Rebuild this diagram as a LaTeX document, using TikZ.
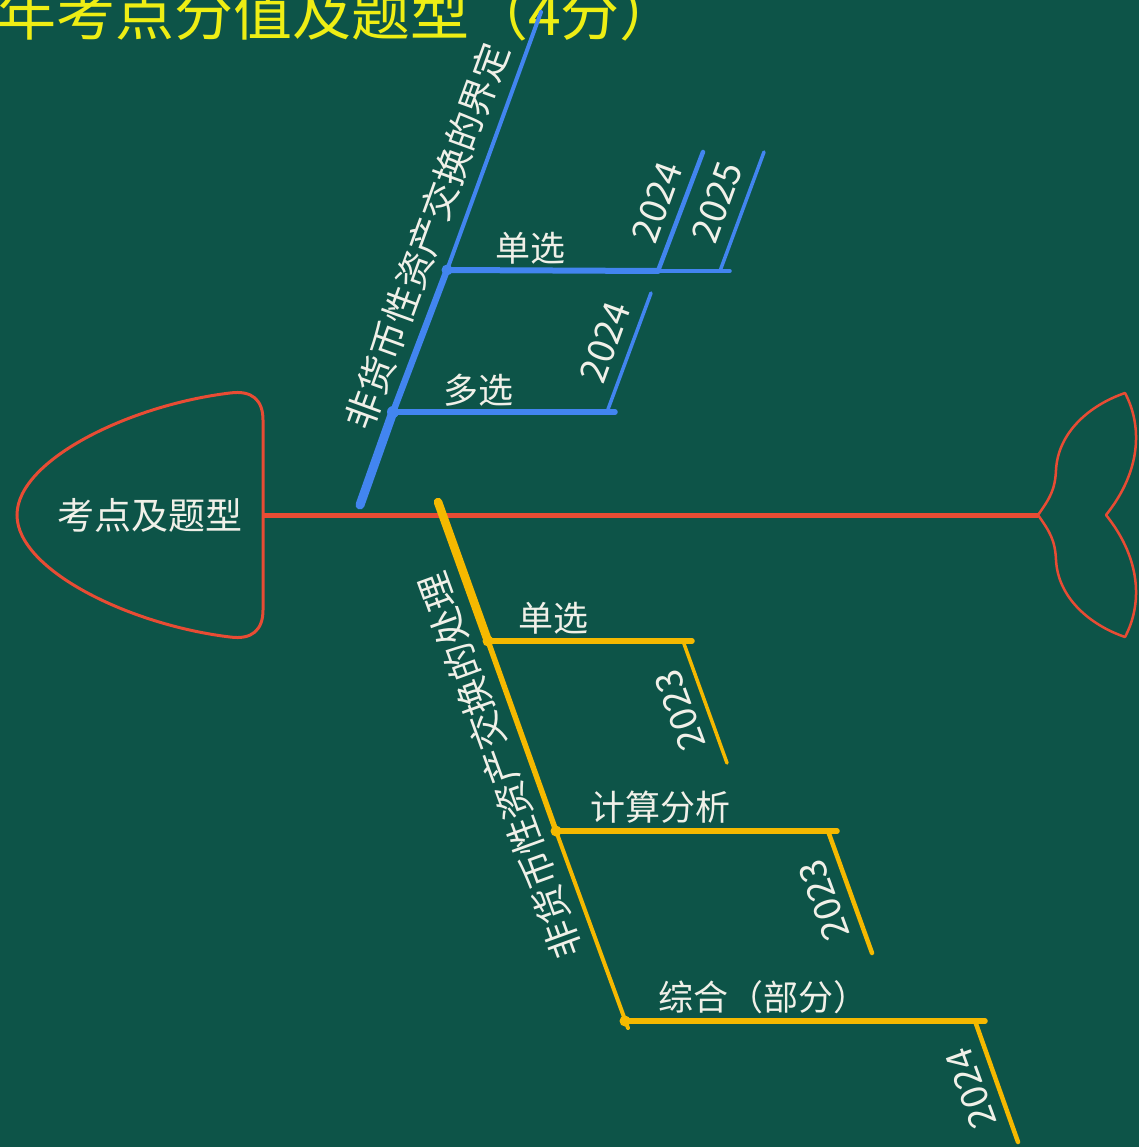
\documentclass[tikz,border=0pt]{standalone}
\usepackage{fontspec}
\setmainfont{Noto Sans CJK SC}
\definecolor{bgc}{RGB}{13,84,72}
\definecolor{fishred}{RGB}{232,76,52}
\definecolor{boneblue}{RGB}{66,133,240}
\definecolor{boneyel}{RGB}{245,185,0}
\definecolor{ttl}{RGB}{238,238,20}
\definecolor{txt}{RGB}{240,240,232}
\begin{document}
\begin{tikzpicture}[x=1pt,y=-1pt,
  lbl/.style={text=txt,font=\fontsize{35}{40}\selectfont,inner sep=0pt},
  yr/.style={text=txt,font=\fontsize{37}{40}\selectfont,inner sep=0pt},
  bb/.style={draw=boneblue,line cap=round},
  yb/.style={draw=boneyel,line cap=round},
  dotb/.style={fill=boneblue},
  doty/.style={fill=boneyel}]
\useasboundingbox (0,0) rectangle (1139,1147);
\clip (0,0) rectangle (1139,1147);
\fill[bgc] (0,0) rectangle (1139,1147);

% title
\node[anchor=base west,text=ttl,font=\fontsize{59}{64}\selectfont,inner sep=0pt] (title) at (-3,36) {年考点分值及题型（4分）};

% head
\draw[fishred,line width=3pt] (263,420) .. controls (263,400) and (252,390) .. (230,393)
  .. controls (130,405) and (17,460) .. (17,515)
  .. controls (17,570) and (130,625) .. (230,637)
  .. controls (252,640) and (263,630) .. (263,610) -- cycle;
\node[lbl,font=\fontsize{37}{40}\selectfont] (head) at (150,515) {考点及题型};

% tail
\draw[fishred,line width=2.5pt,line join=round] (1038,515)
  .. controls (1050,498) and (1055,490) .. (1056,470)
  .. controls (1058,432) and (1090,405) .. (1125,393)
  .. controls (1142,425) and (1142,470) .. (1106,515)
  .. controls (1142,560) and (1142,605) .. (1125,637)
  .. controls (1090,625) and (1058,598) .. (1056,560)
  .. controls (1055,540) and (1050,532) .. (1038,515);

% spine
\coordinate (sp0) at (263,515);
\coordinate (sp1) at (1038,515);
\draw[fishred,line width=5pt] (sp0) -- (sp1);

% ---------- blue bone ----------
\coordinate (B0) at (360,505);
\coordinate (B1) at (393,412);
\coordinate (B2) at (447,270);
\coordinate (B3) at (541,12);
\draw[bb,line width=9pt] (B0) -- (B1);
\draw[bb,line width=6.5pt] (B1) -- (B2);
\draw[bb,line width=4pt] (B2) -- (B3);
\node[lbl,font=\fontsize{37}{40}\selectfont,rotate=70] (blab) at (427,236) {非货币性资产交换的界定};

% 单选 branch
\coordinate (S1y1) at (658,271);
\coordinate (S1y2) at (720,271);
\coordinate (S1e) at (730,271);
\coordinate (S1t1) at (703,152);
\coordinate (S1t2) at (764,152);
\draw[bb,line width=6pt] (B2) -- (S1y1);
\draw[bb,line width=3.5pt] (S1y1) -- (S1e);
\draw[bb,line width=4.5pt] (S1y1) -- (S1t1);
\draw[bb,line width=3.5pt] (S1y2) -- (S1t2);
\fill[dotb] (B2) circle (5.5);
\node[lbl] (bs1) at (530,248) {单选};
\node[yr,rotate=70] (by1) at (657,202) {2024};
\node[yr,rotate=70] (by2) at (717,202) {2025};

% 多选 branch
\coordinate (S2y1) at (607,412);
\coordinate (S2e) at (615,412);
\coordinate (S2t1) at (651,293);
\draw[bb,line width=5.5pt] (B1) -- (S2e);
\draw[bb,line width=3.5pt] (S2y1) -- (S2t1);
\fill[dotb] (B1) circle (6);
\node[lbl] (bs2) at (478,390) {多选};
\node[yr,rotate=70] (by3) at (605,342) {2024};

% ---------- yellow bone ----------
\coordinate (Y0) at (438,502);
\coordinate (J1) at (488,641);
\coordinate (J2) at (556,831);
\coordinate (J3) at (625,1021);
\coordinate (Y4) at (628,1028);
\draw[yb,line width=8.5pt] (Y0) -- (J1);
\draw[yb,line width=5.5pt] (J1) -- (J2);
\draw[yb,line width=4pt] (J2) -- (Y4);
\node[lbl,font=\fontsize{37}{40}\selectfont,rotate=110] (ylab) at (500,766) {非货币性资产交换的处理};

% 单选
\coordinate (T1y) at (683,641);
\coordinate (T1e) at (692,641);
\coordinate (T1b) at (727,763);
\draw[yb,line width=5.5pt] (J1) -- (T1e);
\draw[yb,line width=3.5pt] (T1y) -- (T1b);
\fill[doty] (J1) circle (5.5);
\node[lbl] (ys1) at (553,618) {单选};
\node[yr,rotate=110] (yy1) at (680,710) {2023};

% 计算分析
\coordinate (T2y) at (828,831);
\coordinate (T2e) at (837,831);
\coordinate (T2b) at (872,953);
\draw[yb,line width=5.5pt] (J2) -- (T2e);
\draw[yb,line width=4.5pt] (T2y) -- (T2b);
\fill[doty] (J2) circle (5.5);
\node[lbl] (ys2) at (660,807) {计算分析};
\node[yr,rotate=110] (yy2) at (824,900) {2023};

% 综合（部分）
\coordinate (T3y) at (975,1021);
\coordinate (T3e) at (985,1021);
\coordinate (T3b) at (1018,1142);
\draw[yb,line width=5.5pt] (J3) -- (T3e);
\draw[yb,line width=4.5pt] (T3y) -- (T3b);
\fill[doty] (J3) circle (5.5);
\node[lbl] (ys3) at (763,997) {综合（部分）};
\node[yr,rotate=110] (yy3) at (971,1088) {2024};
\end{tikzpicture}
\end{document}
